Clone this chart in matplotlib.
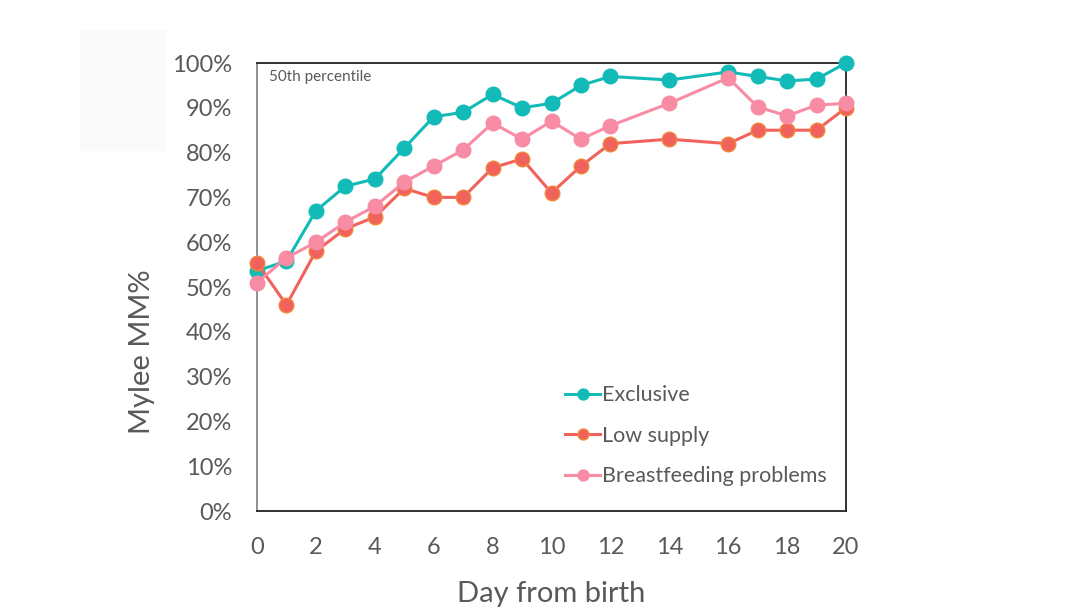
import matplotlib.pyplot as plt
from matplotlib.patches import Rectangle

days = [0, 1, 2, 3, 4, 5, 6, 7, 8, 9, 10, 11, 12, 14, 16, 17, 18, 19, 20]
exclusive = [53.6, 55.8, 67, 72.5, 74.1, 81, 88, 89, 93, 90, 91, 95, 97, 96.2, 98, 97, 96, 96.4, 100]
low_supply = [55.4, 46, 58, 63, 65.6, 72, 70, 70, 76.6, 78.6, 71, 77, 82, 83, 82, 85, 85, 85, 90]
bf_problems = [51, 56.5, 60, 64.5, 68, 73.4, 77, 80.6, 86.6, 83, 87, 83, 86, 91, 96.7, 90.2, 88.2, 90.6, 91]

plt.rcParams['font.family'] = ['Lato', 'DejaVu Sans']
grey = '#595959'

fig = plt.figure(figsize=(10.71, 6.15), dpi=100)
fig.patches.append(Rectangle((80 / 1071, 1 - 150 / 615), 85 / 1071, 120 / 615,
                             transform=fig.transFigure, color='#fafafa', zorder=0))
ax = fig.add_axes([257 / 1071, 104 / 615, 589 / 1071, 448 / 615])

ax.plot(days, exclusive, '-o', color='#12bbb7', lw=2.2, ms=10.5, label='Exclusive', clip_on=False, zorder=3)
ax.plot(days, low_supply, '-o', color='#f2625c', mec='#f0883a', mew=1, lw=2.2, ms=10.5,
        label='Low supply', clip_on=False, zorder=4)
ax.plot(days, bf_problems, '-o', color='#f78ca4', lw=2.2, ms=10.5, label='Breastfeeding problems',
        clip_on=False, zorder=5)

ax.set_xlim(0, 20)
ax.set_ylim(0, 100)
ax.set_xticks(range(0, 21, 2))
ax.set_yticks(range(0, 101, 10))
ax.set_yticklabels([f'{v}%' for v in range(0, 101, 10)])
ax.tick_params(length=0, labelsize=17, colors=grey)
ax.tick_params(axis='x', pad=19)
ax.tick_params(axis='y', pad=18)
for s in ['top', 'right', 'bottom']:
    ax.spines[s].set_color('#222222')
ax.spines['left'].set_color('#888888')
for s in ax.spines.values():
    s.set_linewidth(1.3)

ax.set_xlabel('Day from birth', fontsize=21, color=grey, labelpad=16)
ax.set_ylabel('Mylee MM%', fontsize=21, color=grey)
ax.yaxis.set_label_coords(-0.173, 0.355)
ax.text(0.02, 0.985, '50th percentile', transform=ax.transAxes, fontsize=11,
        color=grey, va='top', ha='left')

leg = ax.legend(loc='lower right', frameon=False, fontsize=15.5, handlelength=1.6,
                handletextpad=0.1, labelspacing=0.95, markerscale=0.75,
                bbox_to_anchor=(1.0, 0.012))
for t in leg.get_texts():
    t.set_color(grey)

fig.savefig('out.png', dpi=100)
